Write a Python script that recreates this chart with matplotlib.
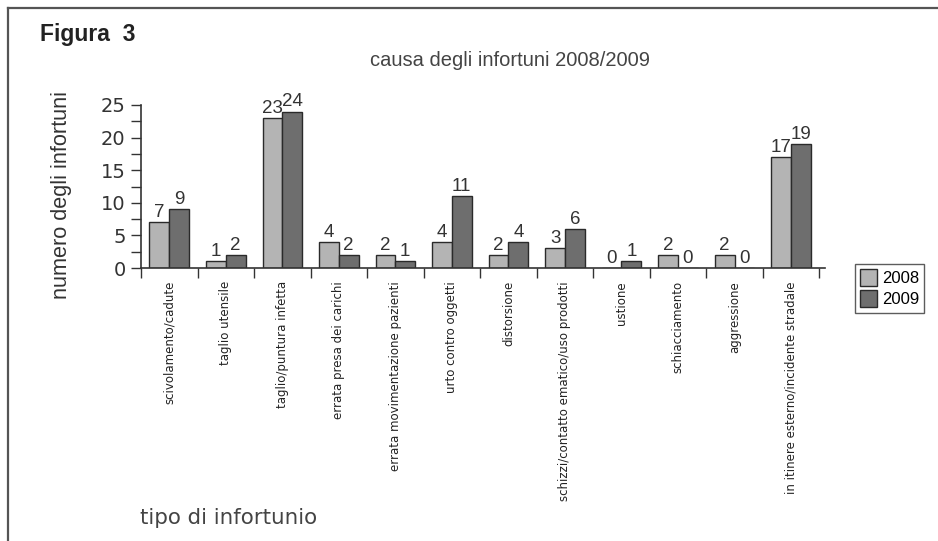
import matplotlib
matplotlib.use("Agg")
import matplotlib.pyplot as plt
import numpy as np
from matplotlib.ticker import MultipleLocator
from matplotlib.patches import Patch
from matplotlib.lines import Line2D

categories = ["scivolamento/cadute", "taglio utensile", "taglio/puntura infetta",
              "errata presa dei carichi", "errata movimentazione pazienti",
              "urto contro oggetti", "distorsione",
              "schizzi/contatto ematico/uso prodotti", "ustione", "schiacciamento",
              "aggressione", "in itinere esterno/incidente stradale"]
years = ["2008", "2009"]
v2008 = [7, 1, 23, 4, 2, 4, 2, 3, 0, 2, 2, 17]
v2009 = [9, 2, 24, 2, 1, 11, 4, 6, 1, 0, 0, 19]

c08 = "#b4b4b4"
c09 = "#6e6e6e"
edge = "#2a2a2a"

fig = plt.figure(figsize=(9.38, 5.41), dpi=100)
fig.patch.set_facecolor("white")

# frame lines (top and left)
fig.add_artist(Line2D([8/938, 1.0], [1-8/541, 1-8/541], color="#555555", lw=1.6))
fig.add_artist(Line2D([8/938, 8/938], [0, 1-8/541], color="#555555", lw=1.6))

ax = fig.add_axes([141/938, 1-268/541, (825-141)/938, (268-105)/541])
x = np.arange(len(categories))
w = 0.35
b1 = ax.bar(x - w/2, v2008, w, color=c08, edgecolor=edge, linewidth=1.0, label=years[0])
b2 = ax.bar(x + w/2, v2009, w, color=c09, edgecolor=edge, linewidth=1.0, label=years[1])

for bars, vals in ((b1, v2008), (b2, v2009)):
    for r, v in zip(bars, vals):
        ax.text(r.get_x() + r.get_width()/2, v + 0.2, str(v), ha="center", va="bottom",
                fontsize=13.5, color="#333333", family="Liberation Sans")

ax.set_xlim(-0.5, len(categories) - 0.4)
ax.set_ylim(0, 25)
for s in ("top", "right"):
    ax.spines[s].set_visible(False)
for s in ("left", "bottom"):
    ax.spines[s].set_color("#333333")
    ax.spines[s].set_linewidth(1.2)

ax.yaxis.set_major_locator(MultipleLocator(5))
ax.yaxis.set_minor_locator(MultipleLocator(2.5))
ax.tick_params(axis="y", which="both", length=7, width=1.0, color="#333333",
               labelsize=14, labelcolor="#333333", pad=4)
for t in ax.get_yticklabels():
    t.set_family("DejaVu Sans")

ax.set_xticks(np.arange(len(categories) + 1) - 0.5)
ax.set_xticklabels([])
ax.tick_params(axis="x", which="major", length=7, width=1.0, color="#333333")
for i, c in enumerate(categories):
    ax.text(i, -2.0, c, rotation=90, ha="center", va="top", fontsize=8.5,
            color="#222222", family="DejaVu Sans")

fig.text(61/938, 1-195/541, "numero degli infortuni", rotation=90, ha="center", va="center",
         fontsize=15.6, color="#333333", family="Liberation Sans")
fig.text(510/938, 1-60/541, "causa degli infortuni 2008/2009", ha="center", va="center",
         fontsize=14.5, color="#444444", family="Liberation Sans")
fig.text(40/938, 1-35/541, "Figura  3", ha="left", va="center", fontsize=16.5,
         fontweight="bold", color="#222222", family="Liberation Sans")
fig.text(140/938, 1-518/541, "tipo di infortunio", ha="left", va="center",
         fontsize=15.4, color="#444444", family="DejaVu Sans")

handles = [Patch(facecolor=c08, edgecolor=edge, label="2008"),
           Patch(facecolor=c09, edgecolor=edge, label="2009")]
leg = fig.legend(handles=handles, loc="upper left", bbox_to_anchor=(855/938, 1-264/541),
                 frameon=True, handlelength=1.0, handleheight=1.2,
                 handletextpad=0.3, borderpad=0.3, labelspacing=0.25, fancybox=False,
                 borderaxespad=0, prop={"family": "Liberation Sans", "size": 12})
leg.get_frame().set_edgecolor("#333333")
leg.get_frame().set_linewidth(1.0)

fig.savefig("out.png", dpi=100, facecolor="white")
